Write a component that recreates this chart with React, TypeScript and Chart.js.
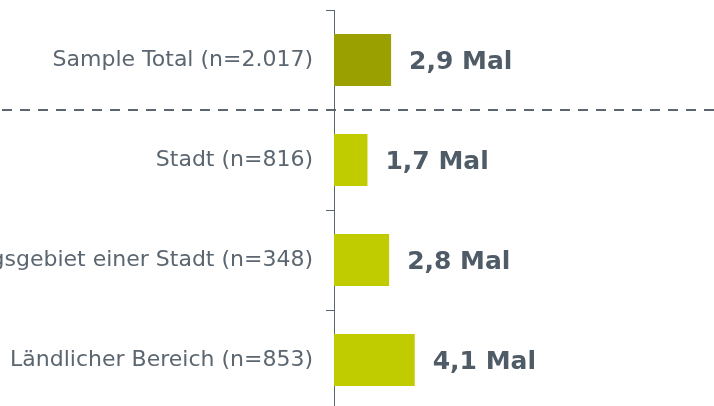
import React, { useEffect, useRef } from "react";
import { Chart, registerables } from "chart.js";

Chart.register(...registerables);

const categories = [
  "Sample Total (n=2.017)",
  "Stadt (n=816)",
  "Einzugsgebiet einer Stadt (n=348)",
  "Ländlicher Bereich (n=853)",
];
const values = [2.9, 1.7, 2.8, 4.1];
const valueLabels = ["2,9 Mal", "1,7 Mal", "2,8 Mal", "4,1 Mal"];
const barColors = ["#99a000", "#c0cc00", "#c0cc00", "#c0cc00"];

const FONT = "'DejaVu Sans', Verdana, sans-serif";
const TEXT = "#5b6670";
const LABEL = "#4f5b66";

const extras = {
  id: "extras",
  afterDatasetsDraw(chart: any) {
    const ctx = chart.ctx;
    const meta = chart.getDatasetMeta(0);
    ctx.save();
    ctx.font = `bold 25px ${FONT}`;
    ctx.fillStyle = LABEL;
    ctx.textAlign = "left";
    ctx.textBaseline = "middle";
    meta.data.forEach((bar: any, i: number) => {
      ctx.fillText(valueLabels[i], bar.x + 18, bar.y + 2);
    });
    // dashed separator after the total
    const y = Math.round(chart.scales.y.getPixelForValue(0.5));
    ctx.strokeStyle = "#5b6670";
    ctx.lineWidth = 2;
    ctx.setLineDash([10, 8]);
    ctx.beginPath();
    ctx.moveTo(2, y);
    ctx.lineTo(chart.width, y);
    ctx.stroke();
    ctx.restore();
  },
};

export default function App() {
  const ref = useRef<HTMLCanvasElement | null>(null);
  useEffect(() => {
    if (!ref.current) return;
    const chart = new Chart(ref.current, {
      type: "bar",
      data: {
        labels: categories,
        datasets: [
          {
            data: values,
            backgroundColor: barColors,
            barPercentage: 0.52,
            categoryPercentage: 1,
          },
        ],
      },
      options: {
        indexAxis: "y",
        animation: false,
        responsive: false,
        maintainAspectRatio: false,
        layout: { padding: 0, autoPadding: false },
        plugins: { legend: { display: false }, tooltip: { enabled: false } },
        scales: {
          x: {
            display: false,
            min: 0,
            max: 19.3,
          },
          y: {
            afterFit(scale: any) {
              scale.width = 334;
              scale.paddingTop = 0;
              scale.paddingBottom = 0;
            },
            border: { display: true, color: "#5b6670", width: 1 },
            grid: {
              drawOnChartArea: false,
              drawTicks: true,
              tickLength: 8,
              color: "#5b6670",
              offset: true,
            },
            ticks: {
              color: TEXT,
              padding: 13,
              font: { family: FONT, size: 22 },
            },
          },
        },
      },
      plugins: [extras],
    });
    return () => chart.destroy();
  }, []);
  return (
    <div
      style={{
        position: "fixed",
        left: 0,
        top: 0,
        width: 714,
        height: 406,
        overflow: "hidden",
        background: "#fff",
      }}
    >
      <canvas
        ref={ref}
        width={714}
        height={400}
        style={{ position: "absolute", left: 0, top: 10, width: 714, height: 400 }}
      />
    </div>
  );
}
